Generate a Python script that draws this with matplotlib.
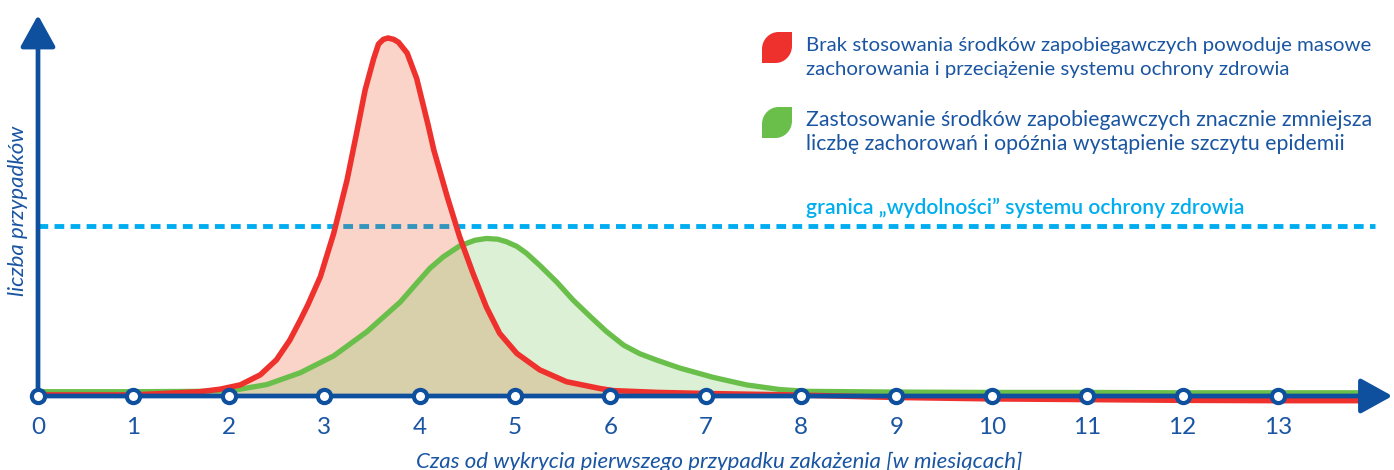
import matplotlib
matplotlib.use("Agg")
import matplotlib.pyplot as plt
from matplotlib.path import Path
from matplotlib.patches import PathPatch

plt.rcParams['font.family'] = ['Lato', 'DejaVu Sans']

# months since first case
months = list(range(14))
month_labels = [str(m) for m in months]

# "no measures" curve (relative number of cases, peak = 100)
red_x = [0.0, 1.0, 1.70, 1.91, 2.12, 2.33, 2.50, 2.64, 2.75, 2.83, 2.96, 3.10, 3.24,
         3.34, 3.43, 3.52, 3.57, 3.62, 3.67, 3.73, 3.78, 3.87, 3.97, 4.09, 4.15,
         4.29, 4.42, 4.56, 4.70, 4.84, 5.02, 5.26, 5.54, 5.89, 6.03, 6.50, 7.00,
         7.90, 9.00, 10.0, 11.0, 12.0, 13.0, 13.97]
red_y = [0.3, 0.3, 1.2, 1.9, 3.1, 5.9, 10.1, 15.6, 21.2, 25.5, 33.3, 45.4, 60.3,
         73.4, 85.5, 94.3, 98.3, 99.6, 100.0, 99.6, 98.8, 95.8, 88.7, 75.7, 68.7,
         55.7, 44.5, 34.3, 24.9, 17.5, 11.9, 7.3, 4.0, 2.1, 1.5, 1.0, 0.7, 0.3,
         -0.4, -0.8, -1.0, -1.2, -1.3, -1.3]

# "with measures" curve
green_x = [0.0, 1.0, 1.70, 2.05, 2.40, 2.75, 3.10, 3.45, 3.80, 3.97, 4.11, 4.25,
           4.42, 4.58, 4.70, 4.82, 4.91, 5.02, 5.12, 5.26, 5.44, 5.61, 5.79, 5.96,
           6.14, 6.31, 6.50, 6.73, 7.08, 7.43, 7.78, 8.06, 9.0, 10.0, 11.0, 12.0,
           13.0, 13.97]
green_y = [1.2, 1.2, 1.3, 1.6, 3.2, 6.5, 11.2, 18.0, 26.3, 31.5, 35.7, 38.9,
           41.9, 43.5, 44.0, 43.8, 43.1, 41.8, 39.9, 36.5, 31.8, 26.8, 22.2, 18.0,
           14.2, 11.8, 9.9, 7.8, 5.2, 3.1, 1.8, 1.3, 1.1, 1.0, 1.0, 0.9, 0.9, 0.9]

capacity = 47.5

red_lines = ["Brak stosowania środków zapobiegawczych powoduje masowe",
             "zachorowania i przeciążenie systemu ochrony zdrowia"]
green_lines = ["Zastosowanie środków zapobiegawczych znacznie zmniejsza",
               "liczbę zachorowań i opóźnia wystąpienie szczytu epidemii"]
capacity_label = "granica „wydolności” systemu ochrony zdrowia"
xlabel = "Czas od wykrycia pierwszego przypadku zakażenia [w miesiącach]"
ylabel = "liczba przypadków"

blue = '#0e4f9e'
text_blue = '#1a55a2'
red = '#ef312e'
red_fill = '#eb3c0a'
green = '#6abf4b'
cyan = '#00aeef'

W, H = 1394, 470
fig = plt.figure(figsize=(W / 100, H / 100), dpi=100)
ax = fig.add_axes([0, 0, 1, 1])
xs, ys = 95.38, 3.58
ax.set_xlim(-38 / xs, (W - 38) / xs)
ax.set_ylim((396 - H) / ys, 396 / ys)
ax.axis('off')

# capacity line (under the fills, like in the original)
ax.plot([0, 14.02], [capacity, capacity], color=cyan, lw=3.5,
        dashes=(2.0, 1.3), zorder=1)

ax.fill_between(red_x, red_y, 0, color=red_fill, alpha=0.22, lw=0, zorder=2)
ax.fill_between(green_x, green_y, 0, color=green, alpha=0.23, lw=0, zorder=2.1)
ax.plot(green_x, green_y, color=green, lw=3.8, solid_capstyle='butt',
        solid_joinstyle='round', zorder=3)
ax.plot(red_x, red_y, color=red, lw=4.0, solid_capstyle='butt',
        solid_joinstyle='round', zorder=3.1)

# axes with arrows
arrow = dict(arrowstyle='-|>,head_length=0.65,head_width=0.36', mutation_scale=30,
             lw=3.4, color=blue, shrinkA=0, shrinkB=0)
ax.annotate('', xy=(14.2, 0), xytext=(0, 0), arrowprops=arrow, zorder=4)
ax.annotate('', xy=(0, 106.4), xytext=(0, 0), arrowprops=arrow, zorder=4)

ax.plot(months, [0] * len(months), 'o', ms=9.5, mfc='white', mec=blue, mew=3.0,
        zorder=5)
for m, lab in zip(months, month_labels):
    ax.text(m, (396 - 428) / ys, lab, ha='center', va='center', fontsize=17.5,
            color=text_blue)

fig.text(719 / W, 1 - 468 / H, xlabel, ha='center', va='baseline', fontsize=16,
         style='italic', color=text_blue)
fig.text(18 / W, 1 - 211 / H, ylabel, ha='center', va='center', rotation=90,
         fontsize=16, style='italic', color=text_blue)

# legend
def leaf(x0, y0, w, h, color):
    r, k = 0.55, 0.55
    pts = [(0, 0), (1 - r, 0), (1 - r + r * k, 0), (1, r - r * k), (1, r), (1, 1),
           (r, 1), (r - r * k, 1), (0, 1 - r + r * k), (0, 1 - r), (0, 0)]
    codes = [Path.MOVETO, Path.LINETO, Path.CURVE4, Path.CURVE4, Path.CURVE4,
             Path.LINETO, Path.LINETO, Path.CURVE4, Path.CURVE4, Path.CURVE4,
             Path.CLOSEPOLY]
    verts = [((x0 + u * w) / W, 1 - (y0 + (1 - v) * h) / H) for u, v in pts]
    fig.patches.append(PathPatch(Path(verts, codes), facecolor=color, lw=0,
                                 transform=fig.transFigure))

renderer = fig.canvas.get_renderer()

def text_block(lines, baselines, width, color, **kw):
    # size the block so that its first line is as wide as in the reference
    texts = [fig.text(806 / W, 1 - b / H, s, ha='left', va='baseline',
                      fontsize=15, color=color, **kw)
             for s, b in zip(lines, baselines)]
    w = texts[0].get_window_extent(renderer).width
    for t in texts:
        t.set_fontsize(15 * width / w)

leaf(762, 32, 30, 31, red)
leaf(762, 107, 30, 31, green)
text_block(red_lines, [51, 75], 566, text_blue)
text_block(green_lines, [126, 150], 564, text_blue)
text_block([capacity_label], [214], 439, cyan, weight='semibold')

fig.savefig('out.png', dpi=100)
